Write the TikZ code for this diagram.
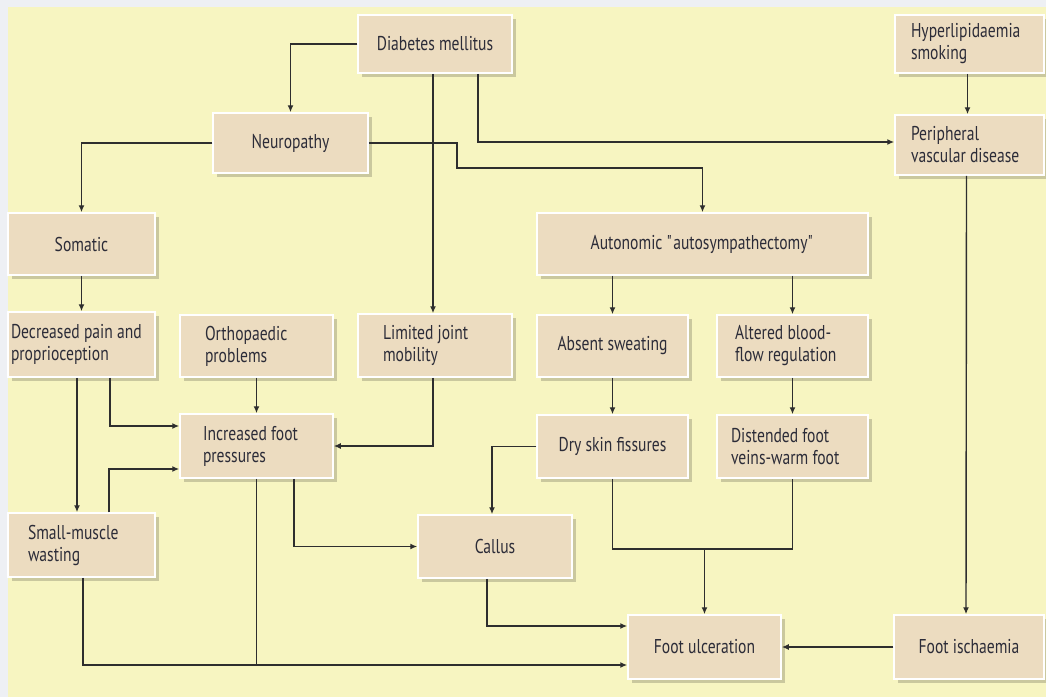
\documentclass[tikz,border=0pt]{standalone}
\usepackage{fontspec}
\setmainfont{PT Sans}[FakeStretch=0.78]
\usepackage{tikz}
\usetikzlibrary{calc,arrows.meta,shadows}
\definecolor{outergray}{HTML}{EEF0F4}
\definecolor{bgcream}{HTML}{F7F5C1}
\definecolor{boxtan}{HTML}{ECDCC0}
\definecolor{inkc}{HTML}{2C2C38}
\definecolor{linec}{HTML}{2E2E2E}

\begin{document}
\begin{tikzpicture}[x=1pt,y=-1pt]
  \tikzstyle{box}=[fill=boxtan,draw=white,line width=1.5pt,text=inkc,font=\fontsize{20}{22}\selectfont,minimum height=60pt,inner ysep=0pt,drop shadow={shadow xshift=4pt,shadow yshift=-4pt,fill=black,opacity=0.18}]
  \tikzset{
cbox/.style={box,align=center},
lbox/.style 2 args={box,align=flush left,inner xsep=#1,text width=#2},
link/.style={draw=linec,line width=1.4pt},
arr/.style={link,-{Latex[length=7pt,width=6pt]}}
}
  \useasboundingbox (0,0) rectangle (1046,697);
  \fill[outergray] (0,0) rectangle (1046,697);
  \fill[bgcream] (8,7) rectangle (1046,697);

  \node[cbox,minimum width=154pt,minimum height=58pt](dm) at (435,44){Diabetes mellitus};
  \node[cbox,minimum width=155pt](neuro) at (290.5,143){Neuropathy};
  \node[cbox,minimum width=147pt,minimum height=62pt](som) at (81.5,244){Somatic};
  \node[cbox,minimum width=331pt,minimum height=62pt](auto) at (702.5,244){Autonomic \textquotedbl autosympathectomy\textquotedbl};
  \node[lbox={16pt}{117pt},minimum height=58pt](hyper) at (969.5,44){Hyperlipidaemia\\smoking};
  \node[lbox={16pt}{117pt}](pvd) at (969.5,145){Peripheral\\vascular disease};
  \node[lbox={3pt}{141pt},minimum height=65pt](dec) at (81.5,344.5){Decreased pain and\\proprioception};
  \node[lbox={25pt}{103pt},minimum height=62pt](ortho) at (256.5,346){Orthopaedic\\problems};
  \node[lbox={25pt}{104pt},minimum height=63pt](ljm) at (435,345.5){Limited joint\\mobility};
  \node[cbox,minimum width=151pt,minimum height=62pt](absent) at (612.5,346){Absent sweating};
  \node[lbox={18pt}{115pt},minimum height=62pt](altered) at (792.5,346){Altered blood-\\flow regulation};
  \node[lbox={23pt}{107pt},minimum height=64pt](ifp) at (256.5,446){Increased foot\\pressures};
  \node[cbox,minimum width=151pt,minimum height=63pt](dry) at (612.5,446.5){Dry skin fissures};
  \node[lbox={14pt}{123pt},minimum height=63pt](dist) at (792.5,446.5){Distended foot\\veins-warm foot};
  \node[lbox={20pt}{107pt},minimum height=64pt](smw) at (81.5,545){Small-muscle\\wasting};
  \node[cbox,minimum width=154pt,minimum height=63pt](callus) at (495,546.5){Callus};
  \node[cbox,minimum width=153pt,minimum height=64pt](fu) at (704.5,647){Foot ulceration};
  \node[cbox,minimum width=150pt,minimum height=64pt](fi) at (969,647){Foot ischaemia};

  \coordinate (fuin) at ([yshift=-18pt]fu.west);
  \coordinate (jn) at (704.5,549);

  \draw[arr] (dm.west) -| (neuro.north);
  \draw[arr] (neuro.west) -| (som.north);
  \draw[arr] ([xshift=-2pt]dm.south) -- ([xshift=-2pt]ljm.north);
  \draw[arr] ([xshift=43pt]dm.south) |- ([yshift=3pt]pvd.west);
  \draw[arr] (neuro.east) -| (457,168) -| (auto.north);
  \draw[arr] ([xshift=-2pt]hyper.south) -- ([xshift=-2pt]pvd.north);
  \draw[arr] (som.south) -- (dec.north);
  \draw[arr] (auto.south -| absent.north) -- (absent.north);
  \draw[arr] (auto.south -| altered.north) -- (altered.north);
  \draw[arr] (absent.south) -- (dry.north);
  \draw[arr] (altered.south) -- (dist.north);
  \draw[arr] (ortho.south) -- (ifp.north);
  \draw[arr] ([xshift=28.5pt]dec.south) |- ([yshift=20pt]ifp.west);
  \draw[arr] ([xshift=-4.5pt]dec.south) -- ([xshift=-4.5pt]smw.north);
  \draw[arr] ([xshift=27.5pt]smw.north) |- ([yshift=-23pt]ifp.west);
  \draw[arr] ([xshift=-2pt]ljm.south) |- (ifp.east);
  \draw[arr] ([xshift=37.5pt]ifp.south) |- (callus.west);
  \draw[arr] (dry.west) -| ([xshift=-3pt]callus.north);
  \draw[arr] ([xshift=-8pt]callus.south) |- ([yshift=21pt]fu.west);
  \draw[arr] ([xshift=1.5pt]smw.south) |- (fuin);
  \draw[link] (ifp.south) -- (ifp.south |- fuin);
  \draw[link] (dry.south) |- (jn) -| (dist.south);
  \draw[arr] (jn) -- (fu.north);
  \draw[arr] ([xshift=-3pt]pvd.south) -- ([xshift=-3pt]fi.north);
  \draw[arr] (fi.west) -- (fu.east);
\end{tikzpicture}
\end{document}
